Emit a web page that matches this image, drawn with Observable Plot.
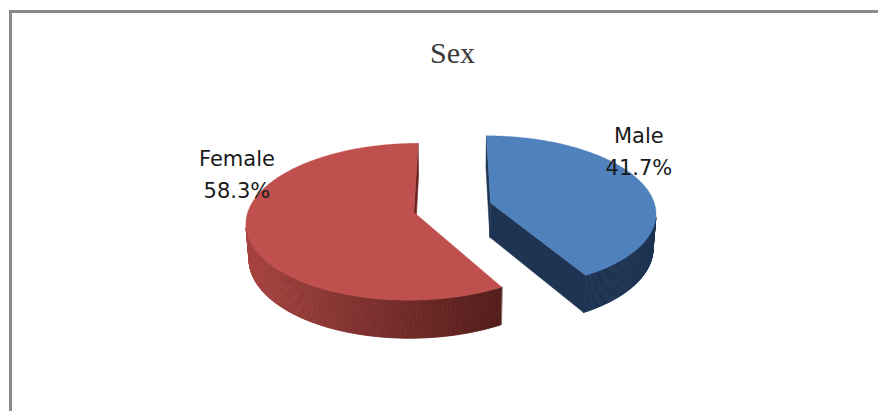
<!DOCTYPE html>
<html>
<head>
<meta charset="utf-8">
<script src="https://cdn.jsdelivr.net/npm/d3@7"></script>
<script src="https://cdn.jsdelivr.net/npm/@observablehq/plot@0.6"></script>
<style>
  html, body { margin: 0; padding: 0; background: #ffffff; overflow: hidden; }
  #wrap { position: relative; width: 878px; height: 411px; }
  #chart { position: absolute; left: 0; top: 0; }
  #frame { position: absolute; left: 9px; top: 10px; width: 900px; height: 420px;
           border-top: 3px solid #8a8a8a; border-left: 3px solid #8a8a8a; pointer-events: none; }
</style>
</head>
<body>
<div id="wrap"><div id="chart"></div><div id="frame"></div></div>
<script>
// ---- data ----
const title = "Sex";
const categories = ["Male", "Female"];
const values = [41.7, 58.3];
const valueLabels = ["41.7%", "58.3%"];

// ---- styles / layout ----
const W = 878, Hpx = 411;
const cx = 452, cy = 207, k = 165;           // pie centre (px) and radius scale
const elev = 27.5 * Math.PI / 180;            // viewing elevation
const D = 7.39;                               // camera distance (in radii)
const thick = 0.24;                           // pie thickness (in radii)
const explode = 0.24;                         // explosion (in radii)
const topColor = { Male: "#4f81bd", Female: "#c0504d" };
const sideDark = { Male: "#1f3452", Female: "#35100f" };
const sideLight = { Male: "#1f3452", Female: "#ab4642" };
const radialColor = { Male: "#1f3452", Female: "#6a2220" };
const labelOffset = { Male: [-4, -63], Female: [-10, -89] };

function proj(X, Y, Z) {
  const depth = D + Y * Math.cos(elev) - Z * Math.sin(elev);
  const s = D / depth;
  return { u: X * s, v: (Y * Math.sin(elev) + Z * Math.cos(elev)) * s };
}
const cam = [0, -D * Math.cos(elev), D * Math.sin(elev)];

const arcs = d3.pie().sort(null).value(d => d)(values);

const sides = [], radials = [], tops = [], labelsData = [];
const step = Math.PI / 360;

arcs.forEach((a, i) => {
  const cat = categories[i];
  const a0 = a.startAngle, a1 = a.endAngle, mid = (a0 + a1) / 2;
  const ox = explode * Math.sin(mid), oy = explode * Math.cos(mid);
  const rim = (t, Z) => proj(ox + Math.sin(t), oy + Math.cos(t), Z);
  const apex = Z => proj(ox, oy, Z);

  // outer curved side, visible parts
  const n = Math.ceil((a1 - a0) / step);
  for (let j = 0; j < n; j++) {
    const t0 = a0 + (a1 - a0) * j / n, t1 = a0 + (a1 - a0) * (j + 1) / n;
    const tm = (t0 + t1) / 2;
    const P = [ox + Math.sin(tm) - cam[0], oy + Math.cos(tm) - cam[1], 0 - cam[2]];
    const dot = Math.sin(tm) * P[0] + Math.cos(tm) * P[1];
    if (dot >= 0) continue;
    const b = Math.max(0, Math.min(1, 0.5 - 0.5 * Math.sin(tm)));
    const col = d3.interpolateRgb(sideDark[cat], sideLight[cat])(b);
    const id = `side-${cat}-${j}`;
    [rim(t0, 0), rim(t1 + step * 0.3, 0), rim(t1 + step * 0.3, -thick), rim(t0, -thick)]
      .forEach(p => sides.push({ id, u: p.u, v: p.v, fill: col }));
  }

  // radial faces
  [[a0, [-Math.cos(a0), Math.sin(a0)]], [a1, [Math.cos(a1), -Math.sin(a1)]]].forEach(([t, nv], r) => {
    const P = [ox - cam[0], oy - cam[1]];
    if (nv[0] * P[0] + nv[1] * P[1] >= 0) return;
    const id = `rad-${cat}-${r}`;
    [apex(0), rim(t, 0), rim(t, -thick), apex(-thick)]
      .forEach(p => radials.push({ id, u: p.u, v: p.v, fill: radialColor[cat] }));
  });

  // top face
  const id = `top-${cat}`;
  tops.push({ id, ...apex(0), fill: topColor[cat] });
  for (let j = 0; j <= n; j++) {
    const t = a0 + (a1 - a0) * j / n;
    tops.push({ id, ...rim(t, 0), fill: topColor[cat] });
  }

  // label anchor on the top rim at mid-angle
  const L = rim(mid, 0);
  labelsData.push({
    u: L.u + labelOffset[cat][0] / k,
    v: L.v - labelOffset[cat][1] / k,
    text: `${cat}\n${valueLabels[i]}`
  });
});

const polyOpts = { x: "u", y: "v", z: "id", fill: "fill", stroke: "fill", strokeWidth: 0.6, curve: "linear-closed" };

const chart = Plot.plot({
  width: W, height: Hpx,
  margin: 0,
  x: { domain: [-cx / k, (W - cx) / k], range: [0, W], axis: null },
  y: { domain: [cy / k, (cy - Hpx) / k], range: [0, Hpx], axis: null },
  color: { type: "identity" },
  style: { background: "transparent", overflow: "visible" },
  marks: [
    Plot.line(sides, polyOpts),
    Plot.line(radials, polyOpts),
    Plot.line(tops, { ...polyOpts, strokeWidth: 0.3 }),
    Plot.text([title], { x: () => 0, frameAnchor: "top", dy: 41, lineAnchor: "top", text: d => d,
      fontSize: 30, fontFamily: "Liberation Serif", fill: "#3a3a3a" }),
    Plot.text(labelsData, { x: "u", y: "v", text: "text", lineAnchor: "top", lineHeight: 1.5,
      fontSize: 21, fontFamily: "DejaVu Sans", fill: "#1a1a1a" })
  ]
});
document.getElementById("chart").appendChild(chart);
</script>
</body>
</html>
